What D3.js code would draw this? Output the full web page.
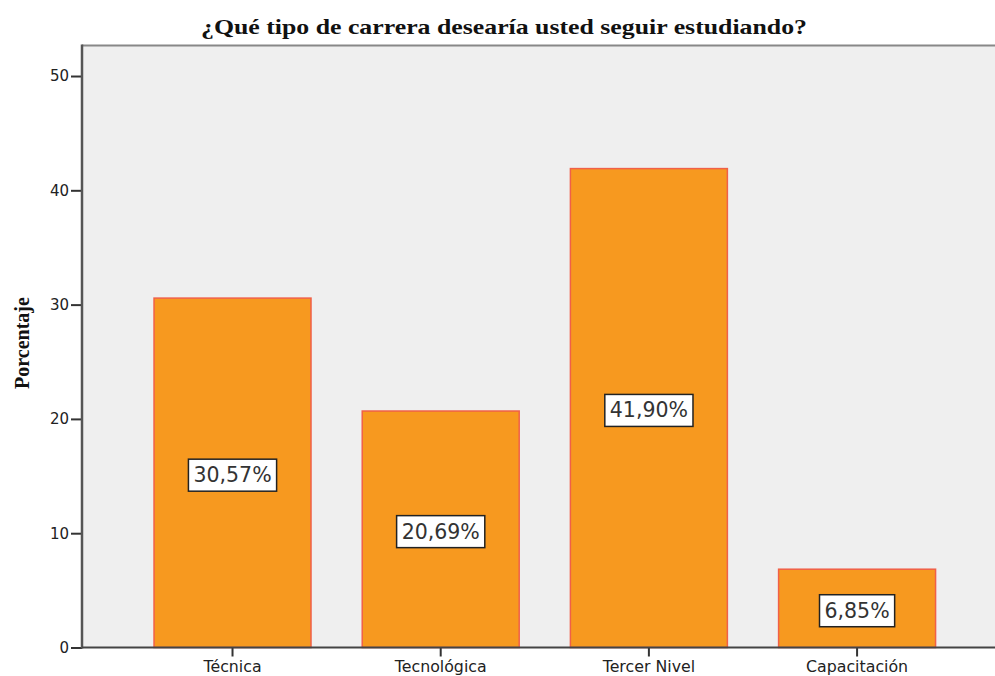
<!DOCTYPE html>
<html><head><meta charset="utf-8">
<script src="https://cdn.jsdelivr.net/npm/d3@7"></script>
<style>body{margin:0;background:#fff}svg{display:block}</style>
</head><body>
<svg id="c" width="995" height="676"></svg>
<script>
const categories = ["Técnica", "Tecnológica", "Tercer Nivel", "Capacitación"];
const values = [30.57, 20.69, 41.90, 6.85];
const valueLabels = ["30,57%", "20,69%", "41,90%", "6,85%"];
const yTicks = [0, 10, 20, 30, 40, 50];
const title = "¿Qué tipo de carrera desearía usted seguir estudiando?";
const yTitle = "Porcentaje";

const svg = d3.select("#c");
const pLeft = 82, pTop = 45.5, pBottom = 647.5, pRight = 1007.6;
const y = d3.scaleLinear().domain([0, 52.67]).range([pBottom, pTop]);
const x = d3.scaleBand().domain(categories).range([pLeft, pRight]).paddingInner(0.246).paddingOuter(0.346);

svg.append("rect").attr("x", pLeft).attr("y", pTop).attr("width", 995 - pLeft).attr("height", pBottom - pTop).attr("fill", "#efefef");
svg.append("line").attr("x1", pLeft).attr("x2", 995).attr("y1", pTop).attr("y2", pTop).attr("stroke", "#888").attr("stroke-width", 2);

svg.selectAll("rect.bar").data(values).join("rect").attr("class", "bar")
  .attr("x", (d, i) => x(categories[i])).attr("width", x.bandwidth())
  .attr("y", d => y(d)).attr("height", d => y(0) - y(d))
  .attr("fill", "#f7991f").attr("stroke", "#f06048").attr("stroke-width", 1.5);

const yAxis = svg.append("g").attr("transform", `translate(${pLeft},0)`)
  .call(d3.axisLeft(y).tickValues(yTicks).tickSize(11).tickSizeOuter(0).tickPadding(2));
yAxis.select(".domain").remove();
yAxis.selectAll(".tick line").attr("stroke", "#333").attr("stroke-width", 2);
yAxis.selectAll("text").attr("font-family", "DejaVu Sans").attr("font-size", 15).attr("fill", "#222");

const xAxis = svg.append("g").attr("transform", `translate(0,${pBottom})`)
  .call(d3.axisBottom(x).tickSize(9).tickSizeOuter(0).tickPadding(4));
xAxis.select(".domain").remove();
xAxis.selectAll(".tick line").attr("stroke", "#333").attr("stroke-width", 2);
xAxis.selectAll("text").attr("font-family", "DejaVu Sans").attr("font-size", 15.8).attr("fill", "#222");

svg.append("line").attr("x1", pLeft).attr("x2", pLeft).attr("y1", pTop - 1).attr("y2", pBottom + 1).attr("stroke", "#555").attr("stroke-width", 2.5);
svg.append("line").attr("x1", pLeft).attr("x2", 995).attr("y1", pBottom).attr("y2", pBottom).attr("stroke", "#444").attr("stroke-width", 2);

const lab = svg.selectAll("g.lab").data(values).join("g").attr("class", "lab")
  .attr("transform", (d, i) => `translate(${x(categories[i]) + x.bandwidth() / 2},${(y(d) + y(0)) / 2 + 2})`);
lab.append("text").text((d, i) => valueLabels[i])
  .attr("text-anchor", "middle").attr("dy", "0.36em")
  .attr("font-family", "DejaVu Sans").attr("font-size", 20.5).attr("fill", "#333");
lab.each(function () {
  const g = d3.select(this), bb = g.select("text").node().getBBox();
  g.insert("rect", "text").attr("x", bb.x - 5).attr("y", bb.y - 4).attr("width", bb.width + 10).attr("height", bb.height + 8)
    .attr("fill", "#fff").attr("stroke", "#222").attr("stroke-width", 1.5);
});

svg.append("text").attr("x", 504).attr("y", 34).attr("text-anchor", "middle")
  .attr("font-family", "Liberation Serif").attr("font-weight", "bold").attr("font-size", 21).attr("fill", "#111")
  .attr("textLength", 606).attr("lengthAdjust", "spacingAndGlyphs").text(title);
svg.append("text").attr("transform", "translate(29,343) rotate(-90)").attr("text-anchor", "middle")
  .attr("font-family", "Liberation Serif").attr("font-weight", "bold").attr("font-size", 20).attr("fill", "#111")
  .text(yTitle);
</script>
</body></html>
